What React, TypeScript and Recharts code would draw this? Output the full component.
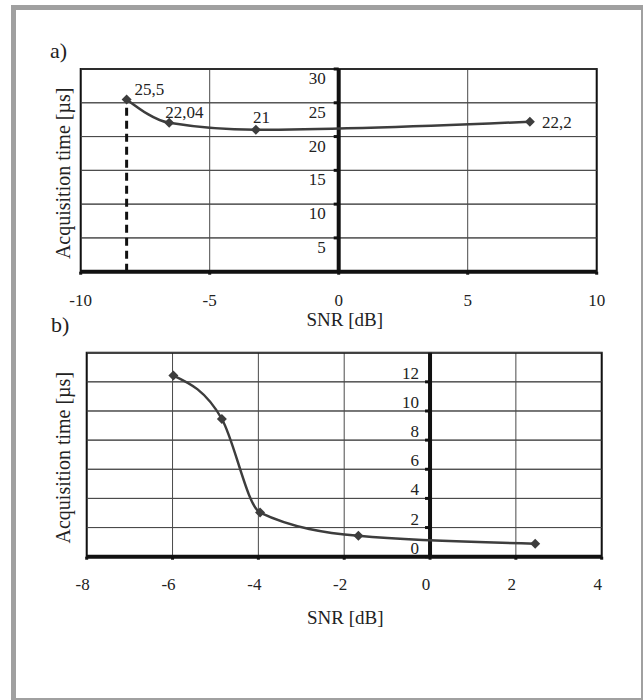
import React from 'react';
import {
  ComposedChart,
  Line,
  XAxis,
  YAxis,
  CartesianGrid,
  ReferenceLine,
  ReferenceDot,
  ReferenceArea,
  LabelList,
  Label,
} from 'recharts';

// ---- Chart a) ----
const snrA = [-8.22, -6.57, -3.21, 7.41];
const timeA = [25.5, 22.04, 21, 22.2];
const pointLabelsA = ['25,5', '22,04', '21', '22,2'];
const xTicksA = [-10, -5, 0, 5, 10];
const yGridA = [0, 5, 10, 15, 20, 25, 30];
const yTickLabelsA = [5, 10, 15, 20, 25, 30];
const xDomainA = [-10, 10];
const yDomainA = [0, 30];

// ---- Chart b) ----
const snrB = [-5.98, -4.85, -3.96, -1.67, 2.45];
const timeB = [12.43, 9.45, 3.03, 1.43, 0.89];
const xTicksB = [-8, -6, -4, -2, 0, 2, 4];
const yGridB = [0, 2, 4, 6, 8, 10, 12, 14];
const yTickLabelsB = [0, 2, 4, 6, 8, 10, 12];
const xDomainB = [-8, 4];
const yDomainB = [0, 14];

const xTitle = 'SNR [dB]';
const yTitle = 'Acquisition time [µs]';

const dataA = snrA.map((x, i) => ({ snr: x, time: timeA[i], label: pointLabelsA[i] }));
const dataB = snrB.map((x, i) => ({ snr: x, time: timeB[i] }));

const FONT = "'Liberation Serif', 'Times New Roman', Times, serif";
const SERIES = '#3d3d3d';
const GRID = '#4a4a4a';
const AXIS = '#111';

const Diamond = (props: any) => {
  const { cx, cy, index } = props;
  if (cx == null || cy == null) return <g key={`d-${index}`} />;
  const s = 5;
  return (
    <path
      key={`d-${index}`}
      d={`M${cx},${cy - s}L${cx + s},${cy}L${cx},${cy + s}L${cx - s},${cy}Z`}
      fill={SERIES}
    />
  );
};

const makeXTick = (dyBase: number, dxShift: number) => (props: any) => {
  const { x, y, payload } = props;
  return (
    <text
      x={x + dxShift}
      y={y + dyBase}
      textAnchor="middle"
      style={{ fontFamily: FONT, fontSize: 17 }}
      fill="#222"
    >
      {payload.value}
    </text>
  );
};

const makeYTickDot = (labelDy: number, gap: number) => (props: any) => {
  const { cx, cy, value } = props;
  return (
    <g>
      <line x1={cx - 5} x2={cx} y1={cy} y2={cy} stroke={AXIS} strokeWidth={3} />
      <text
        x={cx - gap}
        y={cy + labelDy}
        textAnchor="end"
        style={{ fontFamily: FONT, fontSize: 17 }}
        fill="#222"
      >
        {value}
      </text>
    </g>
  );
};

const xTitleContent = (baseline: number, dx: number) => (props: any) => {
  const { viewBox } = props;
  const { x, y, width } = viewBox;
  return (
    <text
      x={x + width / 2 + dx}
      y={y + baseline}
      textAnchor="middle"
      style={{ fontFamily: FONT, fontSize: 19 }}
      fill="#222"
    >
      {xTitle}
    </text>
  );
};

const yTitleContent = (xPos: number) => (props: any) => {
  const { viewBox } = props;
  const { y, height } = viewBox;
  const cy = y + height / 2 + 3;
  return (
    <text
      x={xPos}
      y={cy}
      transform={`rotate(-90, ${xPos}, ${cy})`}
      textAnchor="middle"
      style={{ fontFamily: FONT, fontSize: 20 }}
      fill="#222"
    >
      {yTitle}
    </text>
  );
};

const EmptyTick = () => <g />;

const labelPlacementA = [
  { dx: 8, dy: -4 },
  { dx: -4, dy: -5 },
  { dx: -3, dy: -7 },
  { dx: 12, dy: 6 },
];

const pointLabelA = (props: any) => {
  const { x, y, value, index } = props;
  const p = labelPlacementA[index] || { dx: 6, dy: -6 };
  return (
    <text
      x={x + p.dx}
      y={y + p.dy}
      textAnchor="start"
      style={{ fontFamily: FONT, fontSize: 17 }}
      fill="#222"
    >
      {value}
    </text>
  );
};

const ChartA = () => (
  <ComposedChart
    width={643}
    height={340}
    data={dataA}
    margin={{ top: 69, right: 46.3, bottom: 8.3, left: 0 }}
  >
    <CartesianGrid stroke={GRID} strokeWidth={1} horizontal vertical />
    <XAxis
      type="number"
      dataKey="snr"
      domain={xDomainA}
      ticks={xTicksA}
      interval={0}
      height={60}
      axisLine={{ stroke: AXIS, strokeWidth: 4 }}
      tickLine={{ stroke: AXIS, strokeWidth: 3 }}
      tickSize={3}
      tickMargin={0}
      tick={makeXTick(31, 0)}
      allowDataOverflow
    >
      <Label content={xTitleContent(54, 6)} />
    </XAxis>
    <YAxis
      type="number"
      domain={yDomainA}
      ticks={yGridA}
      interval={0}
      width={80.7}
      tick={EmptyTick}
      axisLine={false}
      tickLine={false}
    >
      <Label content={yTitleContent(70)} />
    </YAxis>
    {yGridA.map((v) => (
      <ReferenceLine key={`ga-${v}`} y={v} stroke={GRID} strokeWidth={1} ifOverflow="visible" />
    ))}
    <ReferenceArea
      x1={xDomainA[0]}
      x2={xDomainA[1]}
      y1={yDomainA[0]}
      y2={yDomainA[1]}
      fill="none"
      fillOpacity={0}
      stroke={AXIS}
      strokeWidth={2}
      ifOverflow="visible"
    />
    <ReferenceLine x={0} stroke={AXIS} strokeWidth={4} ifOverflow="visible" />
    {yTickLabelsA.map((v) => (
      <ReferenceDot
        key={`ya-${v}`}
        x={0}
        y={v}
        r={0}
        ifOverflow="visible"
        shape={(p: any) => makeYTickDot(15, 13)({ ...p, value: v })}
      />
    ))}
    <ReferenceLine
      segment={[
        { x: snrA[0], y: 0 },
        { x: snrA[0], y: timeA[0] },
      ]}
      stroke={AXIS}
      strokeWidth={3}
      strokeDasharray="8 5"
      ifOverflow="visible"
    />
    <Line
      type="monotone"
      dataKey="time"
      stroke={SERIES}
      strokeWidth={2.5}
      dot={Diamond}
      activeDot={false}
      isAnimationActive={false}
    >
      <LabelList dataKey="label" content={pointLabelA} />
    </Line>
  </ComposedChart>
);

const ChartB = () => (
  <ComposedChart
    width={643}
    height={360}
    data={dataB}
    margin={{ top: 12.7, right: 41.3, bottom: 73.3, left: 0 }}
  >
    <CartesianGrid stroke={GRID} strokeWidth={1} horizontal vertical />
    <XAxis
      type="number"
      dataKey="snr"
      domain={xDomainB}
      ticks={xTicksB}
      interval={0}
      height={70}
      axisLine={{ stroke: AXIS, strokeWidth: 4 }}
      tickLine={{ stroke: AXIS, strokeWidth: 3 }}
      tickSize={3}
      tickMargin={0}
      tick={makeXTick(30.5, -4)}
      allowDataOverflow
    >
      <Label content={xTitleContent(67.3, 1)} />
    </XAxis>
    <YAxis
      type="number"
      domain={yDomainB}
      ticks={yGridB}
      interval={0}
      width={86.7}
      tick={EmptyTick}
      axisLine={false}
      tickLine={false}
    >
      <Label content={yTitleContent(70)} />
    </YAxis>
    {yGridB.map((v) => (
      <ReferenceLine key={`gb-${v}`} y={v} stroke={GRID} strokeWidth={1} ifOverflow="visible" />
    ))}
    <ReferenceArea
      x1={xDomainB[0]}
      x2={xDomainB[1]}
      y1={yDomainB[0]}
      y2={yDomainB[1]}
      fill="none"
      fillOpacity={0}
      stroke={AXIS}
      strokeWidth={2}
      ifOverflow="visible"
    />
    <ReferenceLine x={0} stroke={AXIS} strokeWidth={4} ifOverflow="visible" />
    {yTickLabelsB.map((v) => (
      <ReferenceDot
        key={`yb-${v}`}
        x={0}
        y={v}
        r={0}
        ifOverflow="visible"
        shape={(p: any) => makeYTickDot(-3, 11)({ ...p, value: v })}
      />
    ))}
    <Line
      type="monotone"
      dataKey="time"
      stroke={SERIES}
      strokeWidth={2.5}
      dot={Diamond}
      activeDot={false}
      isAnimationActive={false}
    />
  </ComposedChart>
);

export default function App() {
  return (
    <div
      style={{
        position: 'absolute',
        left: 0,
        top: 0,
        width: 643,
        height: 700,
        overflow: 'hidden',
        background: '#fff',
      }}
    >
      <div
        style={{
          position: 'absolute',
          left: 11,
          top: 5,
          width: 635,
          height: 698,
          border: '5px solid #a0a0a0',
          boxSizing: 'border-box',
        }}
      />
      <div style={{ position: 'absolute', left: 0, top: 0 }}>
        <ChartA />
      </div>
      <div style={{ position: 'absolute', left: 0, top: 340 }}>
        <ChartB />
      </div>
      <div
        style={{
          position: 'absolute',
          left: 50,
          top: 39.6,
          fontFamily: FONT,
          fontSize: 22,
          lineHeight: '22px',
          color: '#222',
        }}
      >
        a)
      </div>
      <div
        style={{
          position: 'absolute',
          left: 51,
          top: 313.6,
          fontFamily: FONT,
          fontSize: 22,
          lineHeight: '22px',
          color: '#222',
        }}
      >
        b)
      </div>
    </div>
  );
}
